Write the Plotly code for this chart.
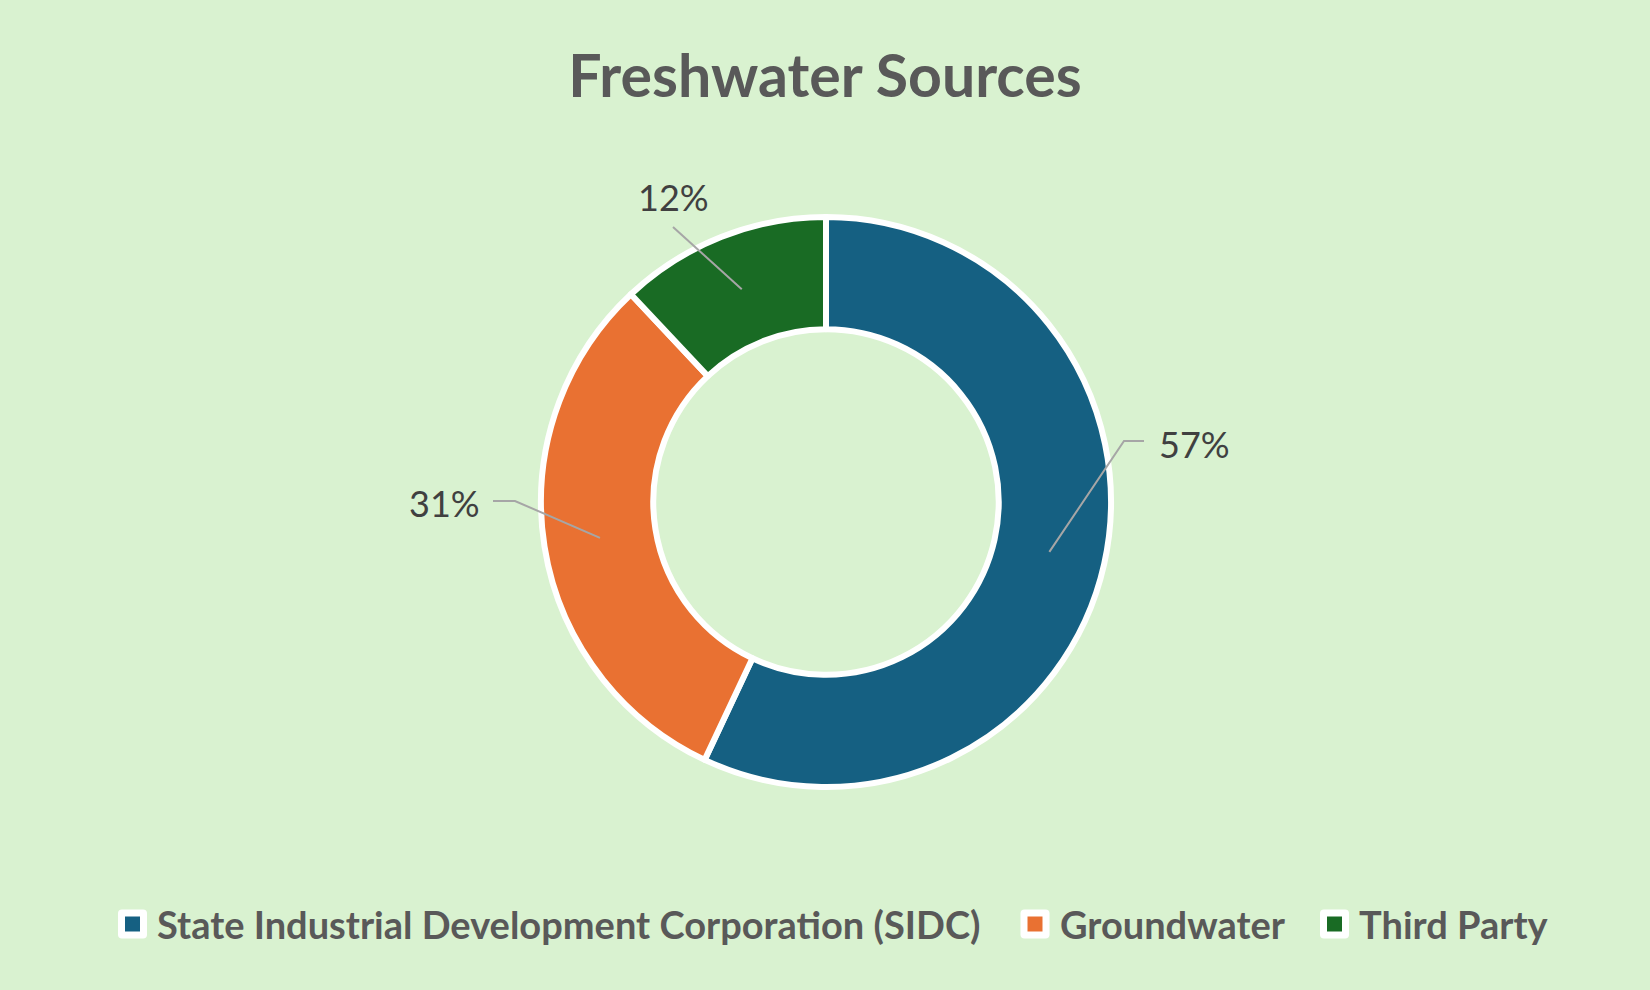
import math
import plotly.graph_objects as go

# ---- data ----
labels = ["State Industrial Development Corporation (SIDC)", "Groundwater", "Third Party"]
values = [57, 31, 12]
colors = ["#156082", "#E97132", "#196B24"]

# ---- layout constants (pixels) ----
W, H = 1650, 990
CX, CY = 826, 502        # pie centre
R = 285                  # outer radius
HOLE = 0.606
# label centre offsets, elbow and line end offsets from centre (layout only)
label_off = [(368, -58), (-382, 1), (-153, -305)]
elbow_off = [(298, -61), (-311, -1), (-153, -275)]
end_off = [(318, -61), (-333, -1), (-153, -275)]
# legend swatch centres (x) and row y
legend_x = [132.5, 1035, 1334.5]
legend_y = 924

def px(x, y):
    return x / W, 1 - y / H

fig = go.Figure()
fig.add_trace(go.Pie(
    labels=labels, values=values, hole=HOLE, sort=False, direction="clockwise",
    rotation=0, textinfo="none", hoverinfo="label+percent", showlegend=False,
    marker=dict(colors=colors, line=dict(color="white", width=6)),
    domain=dict(x=[(CX - R) / W, (CX + R) / W], y=[1 - (CY + R) / H, 1 - (CY - R) / H]),
))

total = sum(values)
cum = 0
shapes, annotations = [], []
rmid = R * (1 + HOLE) / 2
for i, v in enumerate(values):
    mid = (cum + v / 2) / total * 2 * math.pi
    cum += v
    ix = CX + rmid * math.sin(mid)
    iy = CY - rmid * math.cos(mid)
    ex, ey = CX + elbow_off[i][0], CY + elbow_off[i][1]
    tx, ty = CX + end_off[i][0], CY + end_off[i][1]
    p0, p1, p2 = px(ix, iy), px(ex, ey), px(tx, ty)
    shapes.append(dict(
        type="path", xref="paper", yref="paper",
        path=f"M{p0[0]},{p0[1]} L{p1[0]},{p1[1]} L{p2[0]},{p2[1]}",
        line=dict(color="#A6A6A6", width=2), layer="above",
    ))
    lx, ly = px(CX + label_off[i][0], CY + label_off[i][1])
    annotations.append(dict(
        x=lx, y=ly, xref="paper", yref="paper", showarrow=False,
        text=f"{round(v / total * 100)}%", xanchor="center", yanchor="middle",
        font=dict(family="Lato", size=36, color="#404040"),
    ))

# manual legend: white rounded box, coloured square, bold label
def rounded_rect(cx, cy, half, r):
    x0, x1, y0, y1 = cx - half, cx + half, cy - half, cy + half
    pts = [
        f"M{px(x0 + r, y0)[0]},{px(x0 + r, y0)[1]}",
        f"L{px(x1 - r, y0)[0]},{px(x1 - r, y0)[1]}",
        f"Q{px(x1, y0)[0]},{px(x1, y0)[1]} {px(x1, y0 + r)[0]},{px(x1, y0 + r)[1]}",
        f"L{px(x1, y1 - r)[0]},{px(x1, y1 - r)[1]}",
        f"Q{px(x1, y1)[0]},{px(x1, y1)[1]} {px(x1 - r, y1)[0]},{px(x1 - r, y1)[1]}",
        f"L{px(x0 + r, y1)[0]},{px(x0 + r, y1)[1]}",
        f"Q{px(x0, y1)[0]},{px(x0, y1)[1]} {px(x0, y1 - r)[0]},{px(x0, y1 - r)[1]}",
        f"L{px(x0, y0 + r)[0]},{px(x0, y0 + r)[1]}",
        f"Q{px(x0, y0)[0]},{px(x0, y0)[1]} {px(x0 + r, y0)[0]},{px(x0 + r, y0)[1]}",
        "Z",
    ]
    return " ".join(pts)

for lab, col, bx in zip(labels, colors, legend_x):
    shapes.append(dict(type="path", xref="paper", yref="paper",
                       path=rounded_rect(bx, legend_y, 14.5, 4),
                       fillcolor="white", line=dict(width=0)))
    a, b = px(bx - 7.5, legend_y + 7.5), px(bx + 7.5, legend_y - 7.5)
    shapes.append(dict(type="rect", xref="paper", yref="paper",
                       x0=a[0], y0=a[1], x1=b[0], y1=b[1],
                       fillcolor=col, line=dict(width=0)))
    tx, ty = px(bx + 22.5, legend_y)
    annotations.append(dict(
        x=tx, y=ty, xref="paper", yref="paper", showarrow=False, text=lab,
        xanchor="left", yanchor="middle",
        font=dict(family="Lato", size=38, color="#595959", weight="bold"),
    ))

fig.update_layout(
    width=W, height=H, autosize=False,
    margin=dict(l=0, r=0, t=0, b=0),
    paper_bgcolor="#D9F2D0", plot_bgcolor="#D9F2D0",
    showlegend=False,
    title=dict(text="Freshwater Sources", x=0.5, xanchor="center", y=1 - 76 / H, yanchor="middle",
               font=dict(family="Lato", size=59, color="#595959", weight="bold")),
    shapes=shapes, annotations=annotations,
)

fig.write_html("out.html")
